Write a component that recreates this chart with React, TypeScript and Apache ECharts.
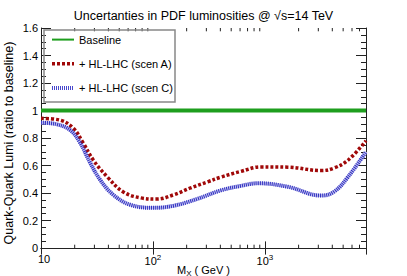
import React, { useEffect, useRef } from "react";
import * as echarts from "echarts";

const xBase = [10, 8000];
const baselineValues = [1, 1];

const xScenA = [10, 14.8, 19.4, 23.8, 29.3, 39.1, 54.4, 77.3, 109, 153, 217, 308, 403, 610, 921, 1607, 3177, 4160, 5550, 8000];
const yScenA = [0.943, 0.93, 0.872, 0.764, 0.64, 0.517, 0.408, 0.365, 0.356, 0.387, 0.437, 0.481, 0.515, 0.557, 0.59, 0.588, 0.563, 0.582, 0.64, 0.78];

const xScenC = [10, 13.6, 18.2, 22.4, 27.5, 33.8, 44.2, 62.9, 101, 153, 251, 403, 610, 866, 1607, 3177, 4160, 5550, 8000];
const yScenC = [0.911, 0.901, 0.858, 0.764, 0.619, 0.495, 0.387, 0.314, 0.292, 0.307, 0.358, 0.419, 0.452, 0.471, 0.445, 0.381, 0.41, 0.519, 0.7];

const minorXTicks = [20, 30, 40, 50, 60, 70, 80, 90, 200, 300, 400, 500, 600, 700, 800, 900, 2000, 3000, 4000, 5000, 6000, 7000];

const seriesNames = ["Baseline", "+ HL-LHC (scen A)", "+ HL-LHC (scen C)"];

const X_MIN = 10;
const X_MAX = 8000;
const Y_MIN = 0;
const Y_MAX = 1.6;

const FONT = "Liberation Sans";

export default function App() {
  const ref = useRef<HTMLDivElement>(null);
  useEffect(() => {
    if (!ref.current) return;
    const chart = echarts.init(ref.current, null, { renderer: "svg" });
    const zip = (xs: number[], ys: number[]) => xs.map((x, i) => [x, ys[i]]);
    const axisColor = "#222";
    const xLabelFmt = (v: number) => {
      const r = Math.round(Math.log10(v) * 1000) / 1000;
      if (Math.abs(v - 10) < 1e-6) return "{first|10}";
      if (Number.isInteger(r) && r >= 2) return "{b|10}{sup|" + r + "}";
      return "";
    };
    chart.setOption({
      animation: false,
      textStyle: { fontFamily: FONT },
      title: {
        text: "Uncertanties in PDF luminosities @ √s=14 TeV",
        left: "center",
        top: 4,
        textStyle: { fontSize: 12.5, fontWeight: "normal", color: "#000", fontFamily: FONT },
      },
      grid: { left: 41, right: 41, top: 28, bottom: 28, containLabel: false, outerBoundsMode: "none" },
      legend: {
        data: [
          { name: seriesNames[0] },
          { name: seriesNames[1], lineStyle: { width: 3.5, color: "#a00808", type: [3, 2] } },
          { name: seriesNames[2], lineStyle: { width: 4, color: "#4848cc", type: [1, 1] } },
        ],
        orient: "vertical",
        left: 50,
        top: 34,
        padding: 0,
        itemWidth: 22,
        itemHeight: 14,
        itemGap: 13,
        itemStyle: { opacity: 0 },
        textStyle: { fontSize: 11, color: "#000", fontFamily: FONT },
        selectedMode: false,
      },
      xAxis: [
        {
          type: "log",
          logBase: 10,
          min: X_MIN,
          max: X_MAX,
          position: "bottom",
          name: "M{sub|X} ( GeV )",
          nameLocation: "middle",
          nameGap: 14,
          nameMoveOverlap: false,
          nameTextStyle: {
            fontSize: 11,
            color: "#000",
            rich: { sub: { fontSize: 8, padding: [7, 0, 0, 0] } },
          },
          axisLine: { show: true, lineStyle: { color: axisColor, width: 1 } },
          axisTick: { show: true, inside: true, length: 6.6, lineStyle: { color: axisColor } },
          axisLabel: {
            formatter: xLabelFmt,
            color: "#000",
            fontSize: 11,
            margin: 5,
            showMaxLabel: false,
            rich: {
              first: { fontSize: 11, padding: [0, 0, 0, 6] },
              b: { fontSize: 11, padding: [0, 0, 0, 0] },
              sup: { fontSize: 8, padding: [0, 0, 8, 0] },
            },
          },
          splitLine: { show: false },
        },
        {
          type: "log",
          logBase: 10,
          min: X_MIN,
          max: X_MAX,
          position: "top",
          axisLine: { show: true, lineStyle: { color: axisColor, width: 1 } },
          axisTick: { show: true, inside: true, length: 6.6, lineStyle: { color: axisColor } },
          axisLabel: { show: false },
          splitLine: { show: false },
        },
      ],
      yAxis: [
        {
          type: "value",
          min: Y_MIN,
          max: Y_MAX,
          interval: 0.2,
          position: "left",
          name: "Quark-Quark Lumi (ratio to baseline)",
          nameLocation: "middle",
          nameGap: 26,
          nameMoveOverlap: false,
          nameTextStyle: { fontSize: 12.5, color: "#000", padding: [0, 10, 0, 0] },
          axisLine: { show: true, lineStyle: { color: axisColor, width: 1 } },
          axisTick: { show: true, inside: true, length: 10, lineStyle: { color: axisColor } },
          minorTick: { show: true, splitNumber: 4, length: 5, lineStyle: { color: axisColor } },
          axisLabel: {
            color: "#000",
            fontSize: 11,
            margin: 3,
            formatter: (v: number) => String(Math.round(v * 10) / 10),
          },
          splitLine: { show: false },
        },
        {
          type: "value",
          min: Y_MIN,
          max: Y_MAX,
          interval: 0.2,
          position: "right",
          axisLine: { show: true, lineStyle: { color: axisColor, width: 1 } },
          axisTick: { show: true, inside: true, length: 10, lineStyle: { color: axisColor } },
          minorTick: { show: true, splitNumber: 4, length: 5, lineStyle: { color: axisColor } },
          axisLabel: { show: false },
          splitLine: { show: false },
        },
      ],
      graphic: [
        {
          type: "rect",
          shape: { x: 44, y: 30, width: 131, height: 72 },
          style: { fill: "none", stroke: "#888", lineWidth: 1.5 },
          z: 10,
        },
      ],
      series: [
        {
          type: "custom",
          name: "minorTicks",
          coordinateSystem: "cartesian2d",
          silent: true,
          clip: false,
          data: minorXTicks.map((v) => [v, Y_MIN]),
          renderItem: (params: any, api: any) => {
            const v = api.value(0);
            const b = api.coord([v, Y_MIN]);
            const t = api.coord([v, Y_MAX]);
            const st = { stroke: axisColor, lineWidth: 1 };
            return {
              type: "group",
              children: [
                { type: "line", shape: { x1: b[0], y1: b[1], x2: b[0], y2: b[1] - 3.3 }, style: st },
                { type: "line", shape: { x1: t[0], y1: t[1], x2: t[0], y2: t[1] + 3.3 }, style: st },
              ],
            };
          },
        },
        {
          name: seriesNames[0],
          type: "line",
          data: zip(xBase, baselineValues),
          symbol: "none",
          lineStyle: { color: "#1e9e1e", width: 4 },
          itemStyle: { color: "#1e9e1e" },
        },
        {
          name: "haloC",
          type: "line",
          data: zip(xScenC, yScenC),
          symbol: "none",
          smooth: 0.4,
          lineStyle: { color: "#c4c4f0", width: 3.5 },
          itemStyle: { color: "#c4c4f0" },
        },
        {
          name: seriesNames[1],
          type: "line",
          data: zip(xScenA, yScenA),
          symbol: "none",
          smooth: 0.4,
          lineStyle: { color: "#a00808", width: 3.5, type: [3, 2] },
          itemStyle: { color: "#a00808" },
        },
        {
          name: seriesNames[2],
          type: "line",
          data: zip(xScenC, yScenC),
          symbol: "none",
          smooth: 0.4,
          lineStyle: { color: "#3030c0", width: 4, type: [1, 1] },
          itemStyle: { color: "#3030c0" },
        },
      ],
    });
    return () => chart.dispose();
  }, []);
  return (
    <div
      ref={ref}
      style={{ position: "absolute", left: 0, top: 0, width: 407, height: 276, background: "#fff" }}
    />
  );
}
